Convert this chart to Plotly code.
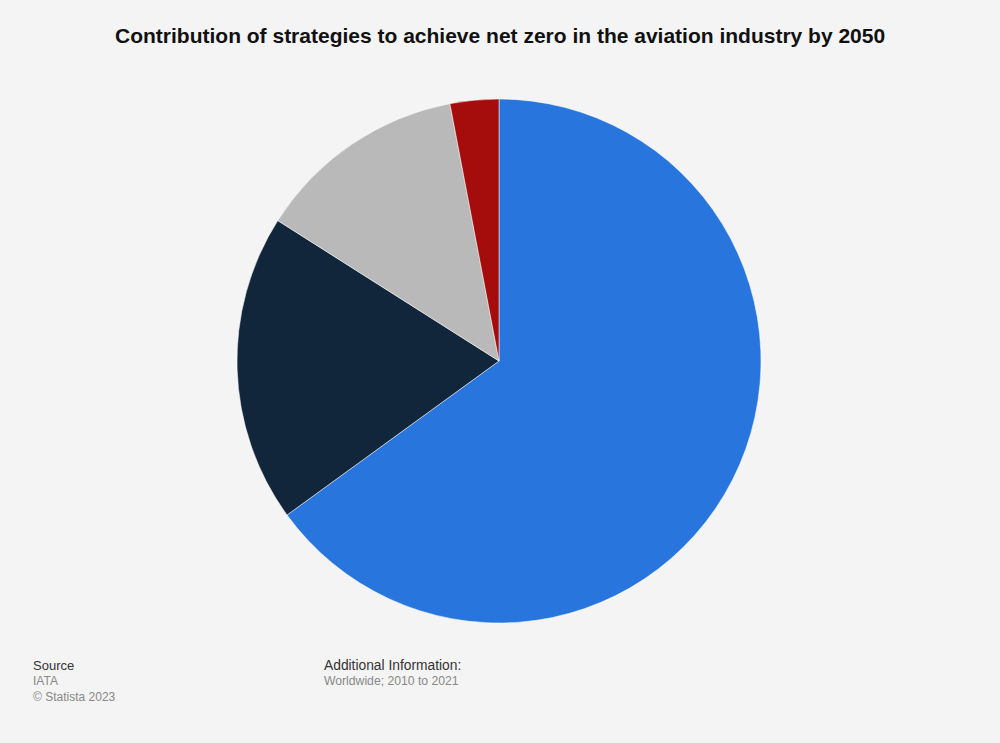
import plotly.graph_objects as go

labels = ["Sustainable aviation fuel", "Offsets and carbon capture", "New technology, electric and hydrogen", "Infrastructure and operational efficiencies"]
values = [65, 19, 13, 3]
colors = ["#2876dd", "#12263b", "#b9b9b9", "#a50d0d"]

W, H = 1000, 743
cx, cy, r = 499, 361, 262

fig = go.Figure(go.Pie(
    labels=labels, values=values, sort=False, direction="clockwise", rotation=0,
    marker=dict(colors=colors, line=dict(color="#ffffff", width=0.5)),
    textinfo="none", hoverinfo="label+percent",
    domain=dict(x=[(cx - r) / W, (cx + r) / W], y=[1 - (cy + r) / H, 1 - (cy - r) / H]),
    showlegend=False,
))

font = "Liberation Sans, Arial, sans-serif"
ann = []
def txt(x, y, s, color, size=13, bold=False):
    ann.append(dict(x=x / W, y=1 - y / H, xref="paper", yref="paper", xanchor="left", yanchor="middle",
                    text=("<b>%s</b>" % s) if bold else s, showarrow=False,
                    font=dict(family=font, size=size, color=color)))

txt(31, 665, "Source", "#333333", 13)
txt(31, 681, "IATA", "#888888", 12)
txt(31, 697, "© Statista 2023", "#888888", 12)
txt(322, 665, "Additional Information:", "#333333", 13.8)
txt(322, 681, "Worldwide; 2010 to 2021", "#888888", 12.2)

ann.append(dict(x=0.5, y=1 - 35 / H, xref="paper", yref="paper", xanchor="center", yanchor="middle",
                text="<b>Contribution of strategies to achieve net zero in the aviation industry by 2050</b>",
                showarrow=False, font=dict(family=font, size=21, color="#111111")))

fig.update_layout(
    width=W, height=H, margin=dict(l=0, r=0, t=0, b=0),
    paper_bgcolor="#f4f4f4", plot_bgcolor="#f4f4f4",
    annotations=ann,
)

fig.write_html("out.html", config={"displayModeBar": False},
               post_script="document.body.style.margin='0';document.body.style.background='#f4f4f4';")
